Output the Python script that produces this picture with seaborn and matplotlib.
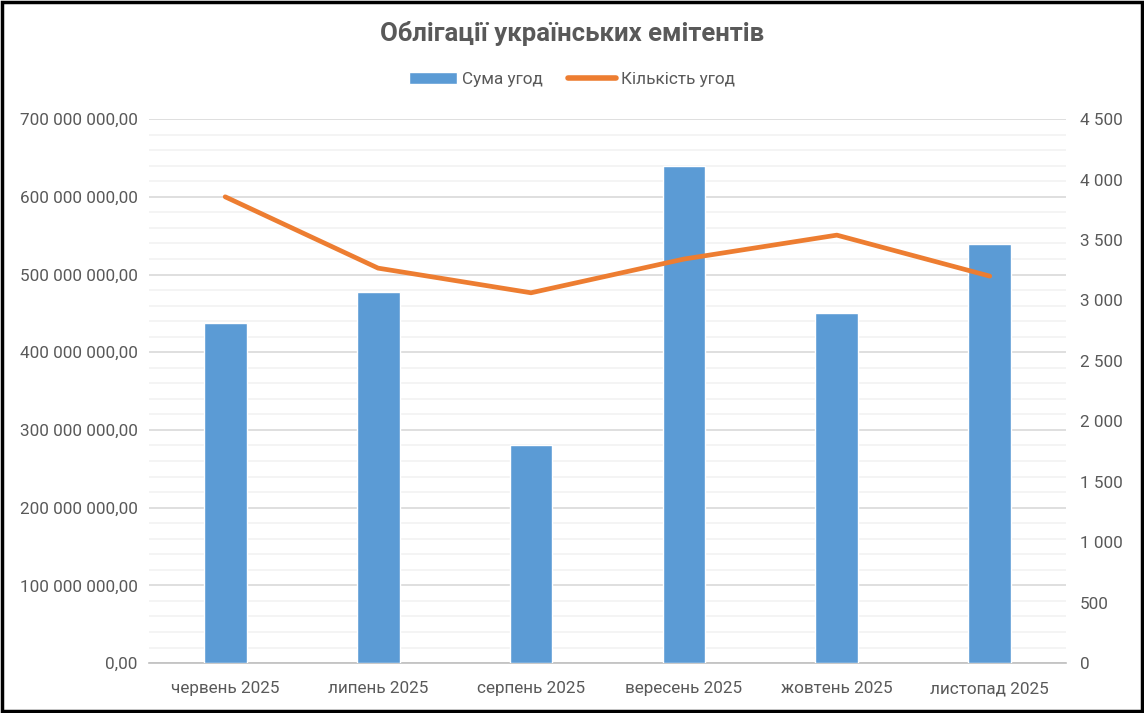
import numpy as np
import pandas as pd
import seaborn as sns
import matplotlib
matplotlib.use("Agg")
import matplotlib.pyplot as plt
from matplotlib.ticker import FuncFormatter, MultipleLocator
from matplotlib.patches import Rectangle
from matplotlib.lines import Line2D
from matplotlib.patches import Patch

# -------------------- data --------------------
months = ["червень 2025", "липень 2025", "серпень 2025",
          "вересень 2025", "жовтень 2025", "листопад 2025"]
deal_sum = [437e6, 478e6, 280e6, 640e6, 451e6, 539e6]   # Сума угод
deal_count = [3857, 3267, 3063, 3342, 3540, 3201]       # Кількість угод

title = "Облігації українських емітентів"
sum_label = "Сума угод"
count_label = "Кількість угод"

df = pd.DataFrame({"month": months, "sum": deal_sum, "count": deal_count})

# -------------------- style --------------------
sns.set_style("white")
plt.rcParams["font.family"] = ["Roboto", "DejaVu Sans"]
text_col = "#595959"
bar_col = "#5b9bd5"
line_col = "#ed7d31"
fs = 12.3

fig = plt.figure(figsize=(11.44, 7.13), dpi=100)
ax = fig.add_axes([0.130, 0.070, 0.802, 0.763])
ax2 = ax.twinx()

# bars (left axis)
sns.barplot(data=df, x="month", y="sum", color=bar_col, saturation=1,
            width=0.28, ax=ax, zorder=3)
# line (right axis)
sns.lineplot(data=df, x="month", y="count", color=line_col, linewidth=3.4,
             sort=False, ax=ax2, zorder=4)

# left axis
ax.set_ylim(0, 700e6)
ax.yaxis.set_major_locator(MultipleLocator(100e6))
ax.yaxis.set_minor_locator(MultipleLocator(20e6))
ax.yaxis.set_major_formatter(FuncFormatter(
    lambda v, p: f"{v:,.2f}".replace(",", " ").replace(".", ",")))
ax.grid(axis="y", which="major", color="#d9d9d9", linewidth=1.2)
ax.grid(axis="y", which="minor", color="#f2f2f2", linewidth=1.2)
ax.set_axisbelow(True)
ax.tick_params(axis="y", which="both", length=0, labelsize=fs,
               labelcolor=text_col, pad=8)

# right axis
ax2.set_ylim(0, 4500)
ax2.yaxis.set_major_locator(MultipleLocator(500))
ax2.yaxis.set_major_formatter(FuncFormatter(
    lambda v, p: f"{v:,.0f}".replace(",", " ")))
ax2.tick_params(axis="y", length=0, labelsize=fs, labelcolor=text_col, pad=10)
ax2.grid(False)

# x axis
ax.set_xlim(-0.5, 5.5)
ax.set_xticks(range(len(months)))
ax.set_xticklabels(months)
ax.set_xticks(np.arange(-0.5, len(months)), minor=True)
ax.tick_params(axis="x", which="major", length=0, labelsize=fs,
               labelcolor=text_col, pad=13)
ax.tick_params(axis="x", which="minor", length=6, color="#bfbfbf", width=1.2)

for a in (ax, ax2):
    a.set_xlabel("")
    a.set_ylabel("")
    for s in ["top", "left", "right"]:
        a.spines[s].set_visible(False)
ax.spines["bottom"].set_color("#bfbfbf")
ax.spines["bottom"].set_linewidth(1.2)
ax2.spines["bottom"].set_visible(False)

# title and legend
fig.text(0.5, 0.953, title, ha="center", va="center", fontsize=18.5,
         fontweight="bold", color=text_col)
handles = [Patch(facecolor=bar_col, label=sum_label),
           Line2D([0], [0], color=line_col, linewidth=4, label=count_label)]
fig.legend(handles=handles, loc="center", bbox_to_anchor=(0.5, 0.889), ncol=2,
           frameon=False, fontsize=fs, labelcolor=text_col,
           handlelength=2.8, handletextpad=0.3, columnspacing=1.5)

# outer black frame
fig.patches.append(Rectangle((0.0015, 0.0025), 0.997, 0.995,
                             transform=fig.transFigure, fill=False,
                             edgecolor="black", linewidth=2.5))

fig.savefig("out.png", dpi=100)
